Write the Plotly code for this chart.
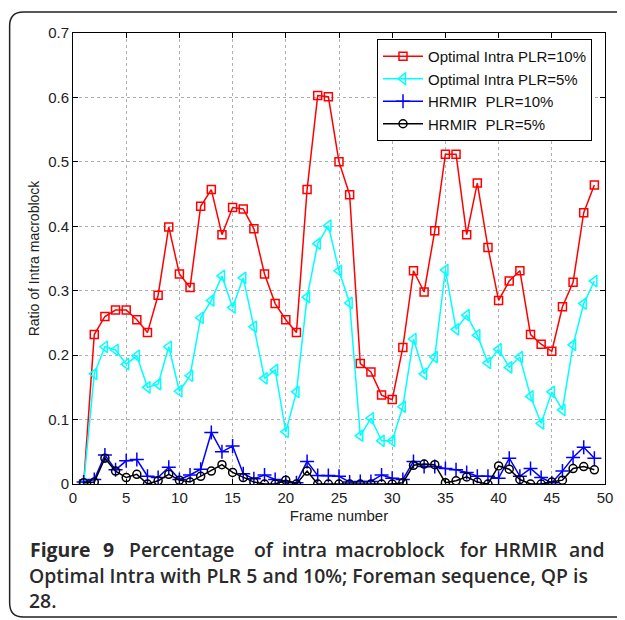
import plotly.graph_objects as go

frames = list(range(1, 50))

optimal_10 = [0.0, 0.232, 0.26, 0.27, 0.27, 0.255, 0.235, 0.293, 0.399, 0.326,
              0.305, 0.431, 0.457, 0.387, 0.429, 0.427, 0.396, 0.326, 0.28, 0.255,
              0.235, 0.457, 0.603, 0.601, 0.5, 0.449, 0.187, 0.174, 0.138, 0.131,
              0.212, 0.331, 0.298, 0.393, 0.512, 0.512, 0.387, 0.467, 0.367, 0.285,
              0.315, 0.331, 0.232, 0.217, 0.206, 0.275, 0.313, 0.421, 0.464]

optimal_5 = [0.0, 0.171, 0.213, 0.208, 0.186, 0.199, 0.150, 0.155, 0.213, 0.144,
             0.168, 0.258, 0.285, 0.323, 0.274, 0.320, 0.244, 0.164, 0.177, 0.081,
             0.143, 0.290, 0.373, 0.401, 0.331, 0.281, 0.075, 0.102, 0.067, 0.067,
             0.120, 0.225, 0.171, 0.197, 0.332, 0.240, 0.262, 0.231, 0.188, 0.209,
             0.181, 0.197, 0.136, 0.094, 0.143, 0.115, 0.216, 0.280, 0.315]

hrmir_10 = [0.003, 0.007, 0.045, 0.022, 0.036, 0.038, 0.012, 0.010, 0.026, 0.007,
            0.014, 0.023, 0.080, 0.050, 0.059, 0.016, 0.008, 0.014, 0.007, 0.003,
            0.002, 0.035, 0.013, 0.013, 0.012, 0.003, 0.004, 0.004, 0.014, 0.009,
            0.007, 0.035, 0.027, 0.027, 0.024, 0.022, 0.018, 0.012, 0.012, 0.009,
            0.040, 0.012, 0.024, 0.010, 0.002, 0.020, 0.041, 0.057, 0.040]

hrmir_5 = [0.002, 0.003, 0.040, 0.020, 0.010, 0.015, 0.0, 0.005, 0.015, 0.006,
           0.003, 0.012, 0.020, 0.030, 0.018, 0.010, 0.003, 0.0, 0.0, 0.006,
           0.0, 0.020, 0.0, 0.0, 0.0, 0.0, 0.0, 0.0, 0.0, 0.0,
           0.002, 0.029, 0.031, 0.030, 0.002, 0.005, 0.011, 0.003, 0.0, 0.028,
           0.023, 0.007, 0.0, 0.0, 0.003, 0.006, 0.024, 0.027, 0.022]

series_names = ["Optimal Intra PLR=10%", "Optimal Intra PLR=5%",
                "HRMIR\u00a0 PLR=10%", "HRMIR\u00a0 PLR=5%"]

x_ticks = [0, 5, 10, 15, 20, 25, 30, 35, 40, 45, 50]
y_ticks = [0, 0.1, 0.2, 0.3, 0.4, 0.5, 0.6, 0.7]
y_tick_labels = ["0", "0.1", "0.2", "0.3", "0.4", "0.5", "0.6", "0.7"]

caption_line1 = ["Figure", "9", "Percentage", "of", "intra", "macroblock", "for", "HRMIR", "and"]
caption_line2 = "Optimal Intra with PLR 5 and 10%; Foreman sequence, QP is"
caption_line3 = "28."

fig = go.Figure()

styles = [
    dict(color="#ff0000", symbol="square-open", size=8),
    dict(color="#00ffff", symbol="triangle-left-open", size=10),
    dict(color="#0000ff", symbol="cross-thin-open", size=10),
    dict(color="#000000", symbol="circle-open", size=8),
]

for name, ys, st in zip(series_names, [optimal_10, optimal_5, hrmir_10, hrmir_5], styles):
    fig.add_trace(go.Scatter(
        x=frames, y=ys, name=name, mode="lines+markers",
        line=dict(color=st["color"], width=1.5),
        marker=dict(symbol=st["symbol"], size=st["size"], color=st["color"],
                    line=dict(color=st["color"], width=1.5)),
    ))

# figure geometry (pixels); page body adds an 8px offset
OFF = 8
W, H = 617, 612
L, R, T, B = 65, 13, 25, 136
pw, ph = W - L - R, H - T - B


def px(xr):
    return (xr - OFF - L) / pw


def py(yr):
    return (H - B - (yr - OFF)) / ph


# rounded outer frame
x0, x1, y0, y1 = px(8.8), px(650), py(12), py(617)
rx, ry = 14 / pw, 14 / ph
path = (f"M {x0+rx},{y0} L {x1-rx},{y0} Q {x1},{y0} {x1},{y0-ry} "
        f"L {x1},{y1+ry} Q {x1},{y1} {x1-rx},{y1} L {x0+rx},{y1} "
        f"Q {x0},{y1} {x0},{y1+ry} L {x0},{y0-ry} Q {x0},{y0} {x0+rx},{y0} Z")
fig.add_shape(type="path", path=path, xref="paper", yref="paper",
              line=dict(color="#222222", width=1.5), layer="below")

cap_font = dict(family="Open Sans", size=19.4, color="#2a2a2a")
# justified first line: words centred on their reference positions
line1_cx = [60.5, 108.5, 183.3, 266.3, 307.5, 395, 479, 532.3, 593.5]
for w, xw in zip(caption_line1, line1_cx):
    bold = w in ("Figure", "9")
    fig.add_annotation(text=w, x=px(xw), y=py(549), xref="paper", yref="paper",
                       xanchor="center", yanchor="middle", showarrow=False,
                       font=dict(cap_font, weight=700 if bold else 600))
for txt, yc in [(caption_line2, 575.5), (caption_line3, 600.5)]:
    fig.add_annotation(text=txt, x=px(26), y=py(yc), xref="paper", yref="paper",
                       xanchor="left", yanchor="middle", showarrow=False,
                       font=dict(cap_font, weight=600))

axis_common = dict(
    showline=True, linecolor="#000000", linewidth=1, mirror="ticks",
    ticks="inside", ticklen=5, tickcolor="#000000",
    showgrid=True, gridcolor="#b0b0b0", griddash="dot", gridwidth=1,
    zeroline=False,
    tickfont=dict(family="Liberation Sans", size=15, color="#222222"),
)

fig.update_layout(
    width=W, height=H,
    margin=dict(l=L, r=R, t=T, b=B),
    paper_bgcolor="white", plot_bgcolor="white",
    showlegend=True,
    legend=dict(x=px(381), y=py(39), xanchor="left", yanchor="top",
                bgcolor="white", bordercolor="#000000", borderwidth=1,
                font=dict(family="Liberation Sans", size=15, color="#111111"),
                tracegroupgap=0, itemwidth=40),
    xaxis=dict(axis_common, range=[0, 50], tickvals=x_ticks,
               title=dict(text="Frame number", standoff=5,
                          font=dict(family="Liberation Sans", size=15, color="#222222"))),
    yaxis=dict(axis_common, range=[0, 0.7], tickvals=y_ticks, ticktext=y_tick_labels,
               title=dict(text="Ratio of Intra macroblock", standoff=5,
                          font=dict(family="Liberation Sans", size=14, color="#222222"))),
)

fig.write_html("out.html")
